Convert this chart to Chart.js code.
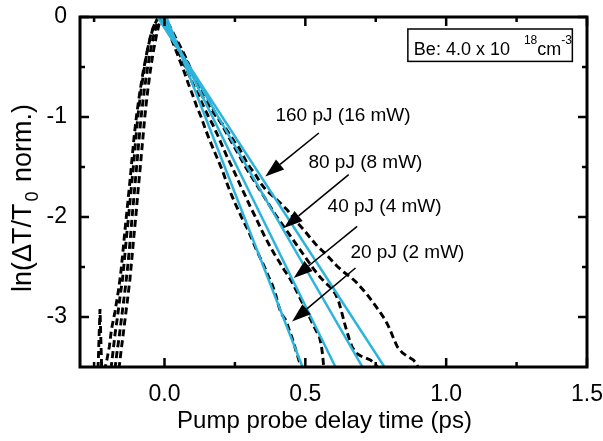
<!DOCTYPE html>
<html><head><meta charset="utf-8">
<script src="https://cdn.jsdelivr.net/npm/chart.js@4.4.1/dist/chart.umd.min.js"></script>
<style>html,body{margin:0;padding:0;background:#fff;}#wrap{width:603px;height:441px;}</style>
</head><body><div id="wrap"><canvas id="c" width="603" height="441"></canvas></div>
<script>
const FONT = "'Liberation Sans', Arial, Helvetica, sans-serif";
const xMajorTicks = [0, 0.5, 1.0, 1.5];
const xMinorTicks = [-0.25, 0.25, 0.75, 1.25];
const yMajorTicks = [0, -1, -2, -3];
const yMinorTicks = [-0.5, -1.5, -2.5];
const seriesLabels = ['20 pJ (2 mW)', '40 pJ (4 mW)', '80 pJ (8 mW)', '160 pJ (16 mW)'];

// fitted single-exponential lines (start x at y=0, end x at y=-3.5)
const fitStartX = [0.007, -0.004, -0.014, -0.025];
const fitEndX = [0.490, 0.607, 0.703, 0.781];
const fitY = [0, -3.5];

// measured curves [delay, ln(dT/T0)]
const meas20 = [[-0.236,-3.52],[-0.229,-2.92],[-0.223,-3.52],[-0.212,-3.52],[-0.204,-3.42],[-0.196,-3.3],[-0.188,-3.12],[-0.176,-2.95],[-0.165,-2.76],[-0.156,-2.58],[-0.148,-2.36],[-0.141,-2.15],[-0.133,-1.93],[-0.124,-1.68],[-0.116,-1.44],[-0.108,-1.2],[-0.099,-0.98],[-0.088,-0.76],[-0.076,-0.55],[-0.063,-0.36],[-0.05,-0.2],[-0.038,-0.09],[-0.027,-0.03],[-0.018,0],[-0.006,-0.04],[0.01,-0.12],[0.025,-0.22],[0.04,-0.33],[0.055,-0.44],[0.07,-0.55],[0.085,-0.67],[0.1,-0.78],[0.115,-0.9],[0.13,-1.0],[0.145,-1.12],[0.16,-1.23],[0.175,-1.33],[0.19,-1.43],[0.205,-1.53],[0.22,-1.65],[0.235,-1.76],[0.25,-1.86],[0.265,-1.95],[0.28,-2.04],[0.295,-2.12],[0.31,-2.22],[0.325,-2.32],[0.34,-2.41],[0.355,-2.5],[0.37,-2.6],[0.383,-2.68],[0.395,-2.78],[0.403,-2.87],[0.41,-2.93],[0.418,-2.98],[0.428,-3.02],[0.437,-3.08],[0.445,-3.15],[0.452,-3.2],[0.46,-3.27],[0.467,-3.34],[0.474,-3.4],[0.48,-3.46],[0.486,-3.52]];
const meas40 = [[-0.19,-3.52],[-0.183,-3.35],[-0.176,-3.18],[-0.166,-2.98],[-0.158,-2.8],[-0.149,-2.62],[-0.142,-2.42],[-0.135,-2.2],[-0.127,-1.98],[-0.119,-1.74],[-0.11,-1.48],[-0.102,-1.22],[-0.094,-0.98],[-0.084,-0.75],[-0.072,-0.52],[-0.06,-0.32],[-0.047,-0.16],[-0.034,-0.06],[-0.022,-0.01],[-0.014,0],[-0.002,-0.03],[0.012,-0.1],[0.027,-0.2],[0.042,-0.3],[0.058,-0.4],[0.074,-0.5],[0.09,-0.6],[0.106,-0.7],[0.122,-0.79],[0.138,-0.89],[0.155,-0.99],[0.172,-1.08],[0.19,-1.19],[0.207,-1.3],[0.224,-1.41],[0.24,-1.5],[0.256,-1.6],[0.272,-1.7],[0.289,-1.8],[0.305,-1.9],[0.321,-1.99],[0.338,-2.09],[0.355,-2.19],[0.372,-2.28],[0.39,-2.37],[0.408,-2.45],[0.425,-2.53],[0.442,-2.6],[0.458,-2.68],[0.474,-2.77],[0.49,-2.86],[0.505,-2.94],[0.518,-3.02],[0.53,-3.09],[0.541,-3.15],[0.55,-3.2],[0.556,-3.27],[0.56,-3.35],[0.563,-3.43],[0.566,-3.52]];
const meas80 = [[-0.176,-3.52],[-0.169,-3.36],[-0.161,-3.2],[-0.153,-3.02],[-0.145,-2.84],[-0.137,-2.66],[-0.129,-2.45],[-0.122,-2.24],[-0.115,-2.0],[-0.107,-1.75],[-0.099,-1.5],[-0.091,-1.24],[-0.083,-1.0],[-0.073,-0.76],[-0.062,-0.54],[-0.05,-0.34],[-0.038,-0.18],[-0.027,-0.07],[-0.017,-0.01],[-0.01,0],[0.003,-0.03],[0.016,-0.1],[0.032,-0.19],[0.048,-0.28],[0.065,-0.37],[0.082,-0.46],[0.1,-0.56],[0.118,-0.65],[0.136,-0.74],[0.155,-0.83],[0.174,-0.93],[0.193,-1.02],[0.212,-1.12],[0.232,-1.22],[0.252,-1.32],[0.272,-1.42],[0.292,-1.52],[0.312,-1.61],[0.332,-1.7],[0.352,-1.79],[0.372,-1.88],[0.392,-1.97],[0.412,-2.05],[0.432,-2.13],[0.452,-2.21],[0.472,-2.29],[0.492,-2.37],[0.512,-2.45],[0.532,-2.53],[0.552,-2.6],[0.572,-2.66],[0.592,-2.71],[0.607,-2.77],[0.619,-2.85],[0.629,-2.95],[0.638,-3.05],[0.647,-3.14],[0.656,-3.22],[0.666,-3.3],[0.68,-3.36],[0.697,-3.39],[0.714,-3.41],[0.731,-3.43],[0.745,-3.46],[0.756,-3.5],[0.762,-3.53]];
const meas160 = [[-0.162,-3.52],[-0.155,-3.36],[-0.147,-3.18],[-0.139,-3.0],[-0.131,-2.82],[-0.123,-2.63],[-0.116,-2.42],[-0.109,-2.2],[-0.101,-1.97],[-0.094,-1.74],[-0.086,-1.5],[-0.078,-1.25],[-0.07,-1.0],[-0.061,-0.77],[-0.051,-0.55],[-0.04,-0.35],[-0.029,-0.19],[-0.019,-0.07],[-0.01,-0.01],[-0.004,0],[0.008,-0.04],[0.022,-0.11],[0.038,-0.2],[0.055,-0.29],[0.073,-0.39],[0.09,-0.5],[0.107,-0.61],[0.123,-0.72],[0.138,-0.81],[0.155,-0.88],[0.172,-0.95],[0.19,-1.02],[0.209,-1.08],[0.228,-1.16],[0.247,-1.24],[0.265,-1.31],[0.28,-1.39],[0.293,-1.46],[0.305,-1.51],[0.322,-1.57],[0.341,-1.66],[0.36,-1.73],[0.38,-1.78],[0.4,-1.83],[0.418,-1.88],[0.436,-1.93],[0.456,-2.0],[0.476,-2.07],[0.495,-2.13],[0.518,-2.21],[0.542,-2.29],[0.565,-2.35],[0.589,-2.42],[0.612,-2.49],[0.636,-2.55],[0.66,-2.6],[0.68,-2.65],[0.696,-2.7],[0.718,-2.77],[0.742,-2.86],[0.765,-2.95],[0.784,-3.03],[0.8,-3.12],[0.814,-3.22],[0.827,-3.3],[0.845,-3.36],[0.866,-3.4],[0.884,-3.43],[0.895,-3.47],[0.903,-3.52]];
const measured = [meas20, meas40, meas80, meas160];

// annotation anchors in data units
const labelOrder = [3, 2, 1, 0];
const labelX = [0.394, 0.511, 0.579, 0.660];
const labelY = [-0.987, -1.457, -1.897, -2.357];
const arrowTail = [[0.548,-1.16],[0.654,-1.577],[0.684,-2.094],[0.678,-2.51]];
const arrowTip = [[0.358,-1.594],[0.424,-2.11],[0.459,-2.61],[0.453,-3.044]];
const boxCorners = [[0.864,-0.12],[1.448,-0.444]];

const CYAN = '#2cb4dc';

const datasets = [];
fitStartX.forEach((sx, i) => {
  datasets.push({
    label: 'fit ' + seriesLabels[i],
    data: [{x: sx, y: fitY[0]}, {x: fitEndX[i], y: fitY[1]}],
    borderColor: CYAN, borderWidth: 2.5, pointRadius: 0, showLine: true, clip: 0
  });
});
measured.forEach((arr, i) => {
  datasets.push({
    label: seriesLabels[i],
    data: arr.map(p => ({x: p[0], y: p[1]})),
    borderColor: '#000', borderWidth: 2.9, borderDash: [7, 4],
    pointRadius: 0, showLine: true, clip: 0, tension: 0
  });
});

const noOverflow = s => { s.paddingLeft = 0; s.paddingRight = 0; s.paddingTop = 0; s.paddingBottom = 0; };

const decor = {
  id: 'decor',
  afterDraw(chart) {
    const {ctx, chartArea: a, scales: {x, y}} = chart;
    ctx.save();
    ctx.strokeStyle = '#000';
    ctx.fillStyle = '#000';
    ctx.lineWidth = 2.5;
    const seg = (x1, y1, x2, y2) => { ctx.beginPath(); ctx.moveTo(x1, y1); ctx.lineTo(x2, y2); ctx.stroke(); };
    const MAJ = 9, MIN = 5;
    xMajorTicks.forEach(v => { const p = x.getPixelForValue(v); seg(p, a.bottom, p, a.bottom - MAJ); seg(p, a.top, p, a.top + MAJ); });
    xMinorTicks.forEach(v => { const p = x.getPixelForValue(v); seg(p, a.bottom, p, a.bottom - MIN); seg(p, a.top, p, a.top + MIN); });
    yMajorTicks.forEach(v => { const p = y.getPixelForValue(v); seg(a.left, p, a.left + MAJ, p); seg(a.right, p, a.right - MAJ, p); });
    yMinorTicks.forEach(v => { const p = y.getPixelForValue(v); seg(a.left, p, a.left + MIN, p); seg(a.right, p, a.right - MIN, p); });
    ctx.lineWidth = 3;
    ctx.strokeRect(a.left, a.top, a.right - a.left, a.bottom - a.top);

    // axis titles
    ctx.textBaseline = 'middle';
    ctx.textAlign = 'center';
    ctx.font = '24px ' + FONT;
    ctx.fillText('Pump probe delay time (ps)', (a.left + a.right) / 2 - 9, a.bottom + 54);

    ctx.save();
    ctx.translate(24, (a.top + a.bottom) / 2 + 6);
    ctx.rotate(-Math.PI / 2);
    const big = '27px ' + FONT, small = '18px ' + FONT;
    const p1 = 'ln(\u0394T/T', p2 = '0', p3 = ' norm.)';
    ctx.font = big; const w1 = ctx.measureText(p1).width, w3 = ctx.measureText(p3).width;
    ctx.font = small; const w2 = ctx.measureText(p2).width;
    let sx = -(w1 + w2 + w3 + 4) / 2;
    ctx.textAlign = 'left';
    ctx.font = big; ctx.fillText(p1, sx, 0);
    ctx.font = small; ctx.fillText(p2, sx + w1 + 2, 9);
    ctx.font = big; ctx.fillText(p3, sx + w1 + w2 + 4, 0);
    ctx.restore();

    // labels and arrows
    ctx.font = '19px ' + FONT;
    ctx.textAlign = 'left';
    labelOrder.forEach((si, k) => {
      ctx.fillText(seriesLabels[si], x.getPixelForValue(labelX[k]), y.getPixelForValue(labelY[k]));
      const tx = x.getPixelForValue(arrowTail[k][0]), ty = y.getPixelForValue(arrowTail[k][1]);
      const hx = x.getPixelForValue(arrowTip[k][0]), hy = y.getPixelForValue(arrowTip[k][1]);
      const ang = Math.atan2(hy - ty, hx - tx);
      const L = 19, W = 6.5;
      const bx = hx - L * Math.cos(ang), by = hy - L * Math.sin(ang);
      ctx.lineWidth = 1.6;
      seg(tx, ty, bx, by);
      ctx.beginPath();
      ctx.moveTo(hx, hy);
      ctx.lineTo(bx + W * Math.sin(ang), by - W * Math.cos(ang));
      ctx.lineTo(bx - W * Math.sin(ang), by + W * Math.cos(ang));
      ctx.closePath();
      ctx.fill();
    });

    // info box
    const bx0 = x.getPixelForValue(boxCorners[0][0]), by0 = y.getPixelForValue(boxCorners[0][1]);
    const bx1 = x.getPixelForValue(boxCorners[1][0]), by1 = y.getPixelForValue(boxCorners[1][1]);
    ctx.fillStyle = '#fff';
    ctx.fillRect(bx0, by0, bx1 - bx0, by1 - by0);
    ctx.fillStyle = '#000';
    ctx.lineWidth = 1.5;
    ctx.strokeRect(bx0, by0, bx1 - bx0, by1 - by0);
    ctx.textBaseline = 'alphabetic';
    const base = by1 - 6;
    let cx = bx0 + 6;
    ctx.font = '18px ' + FONT; ctx.fillText('Be: 4.0 x 10', cx, base); cx += ctx.measureText('Be: 4.0 x 10').width + 14;
    ctx.font = '12px ' + FONT; ctx.fillText('18', cx, base - 11); cx += ctx.measureText('18').width;
    ctx.font = '18px ' + FONT; ctx.fillText('cm', cx, base); cx += ctx.measureText('cm').width;
    ctx.font = '12px ' + FONT; ctx.fillText('-3', cx, base - 11);
    ctx.restore();
  }
};

new Chart(document.getElementById('c'), {
  type: 'scatter',
  data: { datasets },
  options: {
    responsive: false, animation: false, devicePixelRatio: 1,
    layout: { padding: { top: 17, right: 16, left: 0, bottom: 0 } },
    plugins: { legend: { display: false }, tooltip: { enabled: false } },
    scales: {
      x: {
        type: 'linear', min: -0.3, max: 1.5,
        afterBuildTicks: s => { s.ticks = xMajorTicks.map(v => ({ value: v })); },
        afterFit: s => { s.height = 74; noOverflow(s); },
        ticks: { callback: v => Number(v).toFixed(1), font: { family: FONT, size: 23 }, color: '#000', padding: 14, maxRotation: 0, autoSkip: false },
        grid: { display: false, drawTicks: false }, border: { display: false }
      },
      y: {
        type: 'linear', min: -3.5, max: 0,
        afterBuildTicks: s => { s.ticks = yMajorTicks.map(v => ({ value: v })); },
        afterFit: s => { s.width = 80; noOverflow(s); },
        ticks: { callback: v => String(v), font: { family: FONT, size: 23 }, color: '#000', padding: 13, autoSkip: false },
        grid: { display: false, drawTicks: false }, border: { display: false }
      }
    }
  },
  plugins: [decor]
});
</script></body></html>
